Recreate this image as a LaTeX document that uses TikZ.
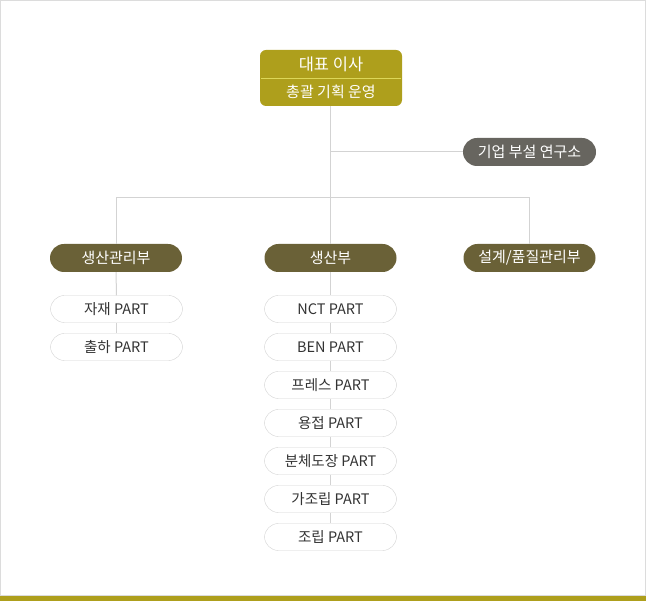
\documentclass[tikz,border=0pt]{standalone}
\usepackage{fontspec}
\setmainfont{Noto Sans CJK KR}
\definecolor{olive}{HTML}{AE9F1C}
\definecolor{darkolive}{HTML}{6A6137}
\definecolor{labgray}{HTML}{67655F}
\definecolor{linegray}{HTML}{D3D3D3}
\definecolor{textgray}{HTML}{333333}
\begin{document}
\begin{tikzpicture}[x=1pt, y=-1pt]
	\tikzset{boss/.style={rectangle, rounded corners=6pt, fill=olive, minimum width=142pt, minimum height=56pt, inner sep=0pt},
		lab/.style={rectangle, rounded corners=14pt, fill=labgray, text=white, minimum width=133pt, minimum height=28pt, inner sep=0pt, font=\fontsize{15}{17}\selectfont},
		dept/.style={rectangle, rounded corners=14pt, fill=darkolive, text=white, minimum width=132pt, minimum height=28pt, inner sep=0pt, font=\fontsize{15}{17}\selectfont},
		part/.style={rectangle, rounded corners=14pt, draw=linegray, fill=white, text=textgray, minimum width=132pt, minimum height=27pt, inner sep=0pt, font=\fontsize{14.5}{16}\selectfont},
		conn/.style={draw=linegray, line width=1pt}}

	\useasboundingbox (0,0) rectangle (646,601);
	\draw[draw=linegray!80, line width=1pt] (0.5,0.5) rectangle (645.5,596);
	\fill[olive] (0,596) rectangle (646,601);

	\node[boss] at (331,78) (a) {};
	\draw[draw=olive!60!yellow!70!white, line width=0.8pt] (261,78) -- (401,78);
	\node[text=white, font=\fontsize{16.5}{18}\selectfont] at (331,64) (a1) {대표 이사};
	\node[text=white, font=\fontsize{15}{17}\selectfont] at (331,92) (a2) {총괄 기획 운영};

	\node[lab] at (529.5,152) (b) {기업 부설 연구소};

	\node[dept] at (116,258) (c) {생산관리부};
	\node[dept] at (330.5,258) (d) {생산부};
	\node[dept] at (529.5,258) (e) {설계/품질관리부};

	\node[part] at (116.5,309) (f) {자재 PART};
	\node[part] at (116.5,347) (g) {출하 PART};

	\node[part] at (330.5,309) (h) {NCT PART};
	\node[part] at (330.5,347) (i) {BEN PART};
	\node[part] at (330.5,385) (j) {프레스 PART};
	\node[part] at (330.5,423) (k) {용접 PART};
	\node[part] at (330.5,461) (l) {분체도장 PART};
	\node[part] at (330.5,499) (m) {가조립 PART};
	\node[part] at (330.5,537) (n) {조립 PART};

	\coordinate (s) at (330.5,152);
	\coordinate (t) at (330.5,198);
	\draw[conn] (a.south -| s) -- (t);
	\draw[conn] (s) -- (b);
	\draw[conn] (c) -- (c |- t) -- (e |- t) -- (e);
	\draw[conn] (t) -- (d);
	\draw[conn] (c) -- (f);
	\draw[conn] (f) -- (g);
	\draw[conn] (d) -- (h);
	\draw[conn] (h) -- (i);
	\draw[conn] (i) -- (j);
	\draw[conn] (j) -- (k);
	\draw[conn] (k) -- (l);
	\draw[conn] (l) -- (m);
	\draw[conn] (m) -- (n);
\end{tikzpicture}
\end{document}
